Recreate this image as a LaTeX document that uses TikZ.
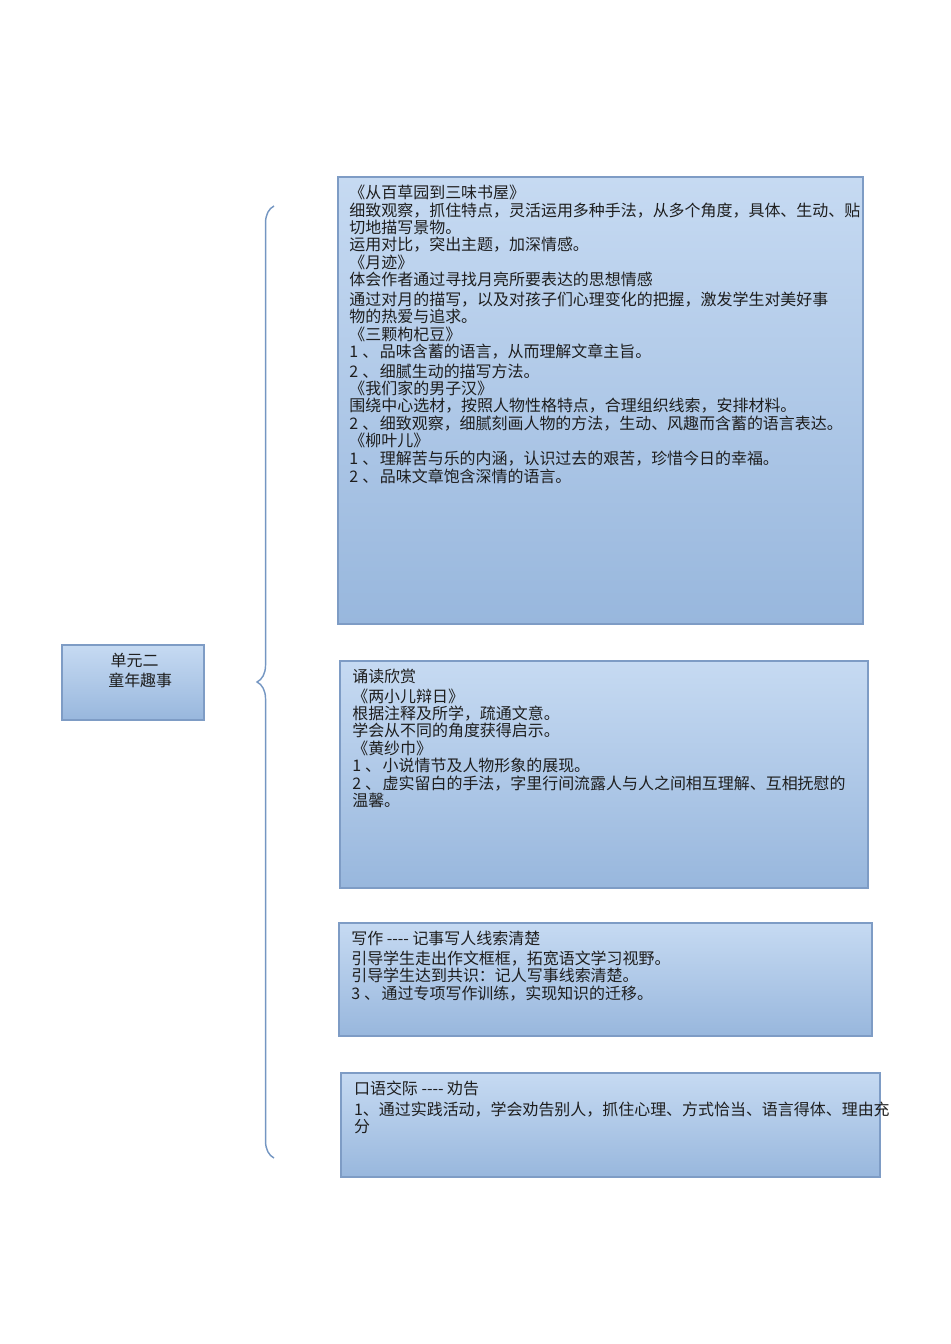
\documentclass[tikz,border=0pt]{standalone}
\usepackage{fontspec}
\setmainfont{Noto Sans CJK SC}
\usetikzlibrary{fit,decorations.pathreplacing}
\definecolor{boxtop}{RGB}{198,218,242}
\definecolor{boxbot}{RGB}{152,183,221}
\definecolor{boxline}{RGB}{126,156,197}
\definecolor{bracecol}{RGB}{116,150,194}
\definecolor{txtcol}{RGB}{30,30,30}
\newcommand{\dashes}{-\kern0pt-\kern0pt-\kern0pt-}
\newcommand{\itm}[1]{#1\kern2.5pt、\kern1pt}

\begin{document}
\begin{tikzpicture}[x=0.6265pt, y=-0.6265pt,
  box/.style={draw=boxline, line width=1pt, top color=boxtop, bottom color=boxbot, inner sep=0pt},
  boxtext/.style={anchor=north west, inner sep=0pt, align=left, text=txtcol,
    font=\fontsize{10}{10.9}\selectfont},
  bracket/.style={draw=bracecol, line width=0.9pt, decorate,
    decoration={brace, amplitude=10.6pt}}]

\useasboundingbox (0,0) rectangle (950,1344);

% left box
\node[box, fit={(62,645) (204,720)}] (unit) {};
\node[boxtext, font=\fontsize{10}{12.3}\selectfont] (unittext) at (108,653) {\kern1.5pt单元二\\童年趣事};

% brace
\coordinate (bracebot) at (274,1158);
\coordinate (bracetop) at (274,206);
\draw[bracket] (bracebot) -- (bracetop);

% reading
\node[box, fit={(338,177) (863,624)}] (reading) {};
\node[boxtext] (readingtext) at ([xshift=7.5pt, yshift=-5.5pt]reading.north west) {%
《从百草园到三味书屋》\\
细致观察，抓住特点，灵活运用多种手法，从多个角度，具体、生动、贴\\
切地描写景物。\\
运用对比，突出主题，加深情感。\\
《月迹》\\
体会作者通过寻找月亮所要表达的思想情感\\[1.5pt]
通过对月的描写，以及对孩子们心理变化的把握，激发学生对美好事\\
物的热爱与追求。\\
《三颗枸杞豆》\\
\itm{1}品味含蓄的语言，从而理解文章主旨。\\[1.2pt]
\itm{2}细腻生动的描写方法。\\
《我们家的男子汉》\\
围绕中心选材，按照人物性格特点，合理组织线索，安排材料。\\
\itm{2}细致观察，细腻刻画人物的方法，生动、风趣而含蓄的语言表达。\\
《柳叶儿》\\
\itm{1}理解苦与乐的内涵，认识过去的艰苦，珍惜今日的幸福。\\[0.6pt]
\itm{2}品味文章饱含深情的语言。};

% recital
\node[box, fit={(340,661) (868,888)}] (recital) {};
\node[boxtext] (recitaltext) at ([xshift=8pt, yshift=-5.5pt]recital.north west) {%
诵读欣赏\\[1.2pt]
《两小儿辩日》\\
根据注释及所学，疏通文意。\\
学会从不同的角度获得启示。\\
《黄纱巾》\\
\itm{1}小说情节及人物形象的展现。\\
\itm{2}虚实留白的手法，字里行间流露人与人之间相互理解、互相抚慰的\\
温馨。};

% writing
\node[box, fit={(339,923) (872,1036)}] (writing) {};
\node[boxtext] (writingtext) at ([xshift=8pt, yshift=-5.5pt]writing.north west) {%
写作 \dashes{} 记事写人线索清楚\\[1.5pt]
引导学生走出作文框框，拓宽语文学习视野。\\
引导学生达到共识：记人写事线索清楚。\\
\itm{3}通过专项写作训练，实现知识的迁移。};

% speaking
\node[box, fit={(341,1073) (880,1177)}] (speaking) {};
\node[boxtext] (speakingtext) at ([xshift=8.5pt, yshift=-5.5pt]speaking.north west) {%
口语交际 \dashes{} 劝告\\[2pt]
1、通过实践活动，学会劝告别人，抓住心理、方式恰当、语言得体、理由充\\
分};

\end{tikzpicture}
\end{document}
